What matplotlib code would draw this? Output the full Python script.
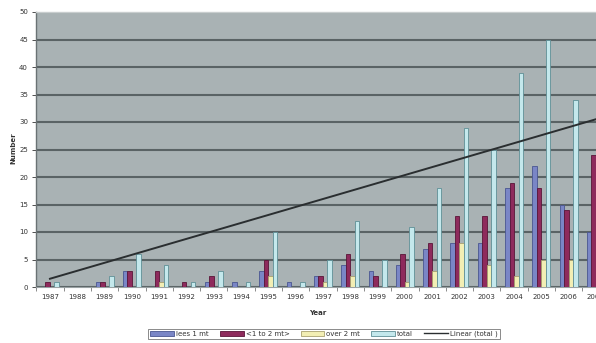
import matplotlib
matplotlib.use("Agg")
import matplotlib.pyplot as plt
import numpy as np
from matplotlib.patches import Patch
from matplotlib.lines import Line2D

years = ["1987", "1988", "1989", "1990", "1991", "1992", "1993", "1994", "1995", "1996",
         "1997", "1998", "1999", "2000", "2001", "2002", "2003", "2004", "2005", "2006", "2007"]
less_1mt = [0, 0, 1, 3, 0, 0, 1, 1, 3, 1, 2, 4, 3, 4, 7, 8, 8, 18, 22, 15, 10]
one_to_2mt = [1, 0, 1, 3, 3, 1, 2, 0, 5, 0, 2, 6, 2, 6, 8, 13, 13, 19, 18, 14, 24]
over_2mt = [0, 0, 0, 0, 1, 0, 0, 0, 2, 0, 1, 2, 0, 1, 3, 8, 4, 2, 5, 5, 6]
total = [1, 0, 2, 6, 4, 1, 3, 1, 10, 1, 5, 12, 5, 11, 18, 29, 25, 39, 45, 34, 40]
# Linear (total) trendline values at the first and last year
trend_years = [0, 20]
trend_vals = [1.5, 30.5]

series = [
    ("lees 1 mt", less_1mt, "#7a86c6", "#4a5690"),
    ("<1 to 2 mt>", one_to_2mt, "#8e2a5c", "#5a1538"),
    ("over 2 mt", over_2mt, "#f2eeb4", "#a8a070"),
    ("total", total, "#c4e8ec", "#5f8f96"),
]

fig = plt.figure(figsize=(5.96, 3.43), dpi=100)
ax = fig.add_axes([36.3 / 596, 1 - 287 / 343, 573.3 / 596, 275 / 343])
ax.set_facecolor("#a9b2b4")

x = np.arange(len(years))
bw = 0.165
for i, (name, vals, fc, ec) in enumerate(series):
    ax.bar(x + (i - 1.5) * bw, vals, width=bw, color=fc, edgecolor=ec, linewidth=0.6, zorder=3)

ax.plot(trend_years, trend_vals, color="#2a2e30", linewidth=1.4, zorder=4)

ax.set_xlim(-0.5, len(years) - 0.5)
ax.set_ylim(0, 50)
ax.set_yticks(np.arange(0, 51, 5))
ax.yaxis.grid(True, color="#5a6365", linewidth=1.5, zorder=0)
ax.set_axisbelow(True)
ax.set_xticks(x)
ax.set_xticklabels(years)
ax.set_xticks(np.arange(-0.5, len(years), 1), minor=True)
ax.tick_params(axis="x", which="major", length=0, labelsize=5, pad=5, colors="#333333")
ax.tick_params(axis="x", which="minor", length=3, width=0.6, color="#777777")
ax.tick_params(axis="y", length=3, width=0.6, labelsize=5, pad=3, colors="#333333")

ax.spines["right"].set_visible(False)
ax.spines["top"].set_color("#c8cdce")
ax.spines["top"].set_linewidth(1.0)
ax.spines["left"].set_color("#6a7274")
ax.spines["left"].set_linewidth(1.0)
ax.spines["bottom"].set_color("#9aa2a4")
ax.spines["bottom"].set_linewidth(0.8)

fig.text(318 / 596, 1 - 313 / 343, "Year", fontsize=5, fontweight="bold",
         ha="center", va="center", color="#333333")
fig.text(13 / 596, 1 - 148 / 343, "Number", fontsize=5, fontweight="bold",
         ha="center", va="center", rotation=90, color="#333333")

handles = [Patch(facecolor=fc, edgecolor=ec, linewidth=0.6, label=name)
           for name, vals, fc, ec in series]
handles.append(Line2D([0], [0], color="#2a2e30", linewidth=1.0, label="Linear (total )"))
leg = fig.legend(handles=handles, loc="center", bbox_to_anchor=(324 / 596, 1 - 334 / 343),
                 ncol=5, fontsize=5, frameon=True, fancybox=False, handlelength=3.4,
                 handleheight=0.8, handletextpad=0.3, columnspacing=1.6,
                 borderpad=0.3, edgecolor="#555555")
leg.get_frame().set_linewidth(0.6)
for t in leg.get_texts():
    t.set_color("#333333")

fig.savefig("out.png", dpi=100, facecolor="white")
